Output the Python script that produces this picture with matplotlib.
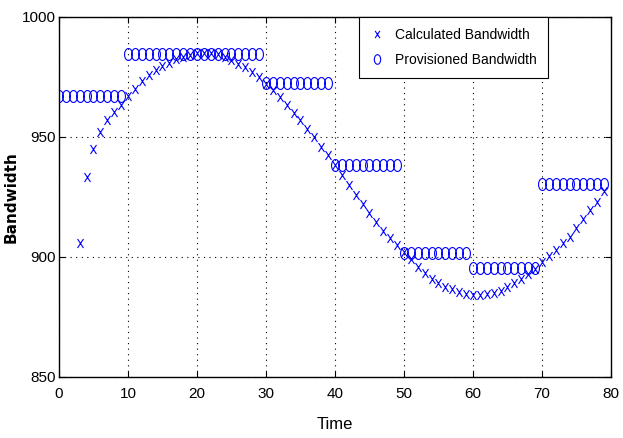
import numpy as np
import matplotlib
matplotlib.use('Agg')
import matplotlib.pyplot as plt
from matplotlib.path import Path
from matplotlib.markers import MarkerStyle

# 計算された帯域 (t=3..79)
calc_time = np.arange(3, 80)
calc_bw = [906, 933.5, 945, 952, 957, 960.5, 963.5,
           967, 970, 973.5, 976, 978, 979.5, 981, 982.5, 983.5, 984,
           985, 985, 985, 984.5, 983.5, 982, 980.5, 979, 977, 975,
           972, 969.5, 966.5, 963.5, 960, 957, 953.5, 950, 946, 942.5,
           938.5, 934, 930, 926, 922, 918.5, 914.5, 911, 908, 905,
           902, 899, 896, 893.5, 891, 889, 887.5, 886.5, 885.5, 884.5,
           884, 884, 884.5, 885, 886, 887.5, 889, 891, 893, 895,
           898, 900.5, 903, 906, 908.5, 912, 916, 919.5, 923, 927.5]

# 割り当てられた帯域 (t=0..79)
prov_time = np.arange(0, 80)
prov_bw = [967, 967, 967, 967, 967, 967, 967, 967, 967, 967,
           984.5, 984.5, 984.5, 984.5, 984.5, 984.5, 984.5, 984.5, 984.5, 984.5,
           984.5, 984.5, 984.5, 984.5, 984.5, 984.5, 984.5, 984.5, 984.5, 984.5,
           972.5, 972.5, 972.5, 972.5, 972.5, 972.5, 972.5, 972.5, 972.5, 972.5,
           938.5, 938.5, 938.5, 938.5, 938.5, 938.5, 938.5, 938.5, 938.5, 938.5,
           901.5, 901.5, 901.5, 901.5, 901.5, 901.5, 901.5, 901.5, 901.5, 901.5,
           895.5, 895.5, 895.5, 895.5, 895.5, 895.5, 895.5, 895.5, 895.5, 895.5,
           930.5, 930.5, 930.5, 930.5, 930.5, 930.5, 930.5, 930.5, 930.5, 930.5]

xticks = [0, 10, 20, 30, 40, 50, 60, 70, 80]
yticks = [850, 900, 950, 1000]

# 縦長の楕円とx印 (元画像は横方向に圧縮されている)
th = np.linspace(0, 2 * np.pi, 60)
ellipse = MarkerStyle(Path(np.column_stack([0.33 * np.cos(th), 0.5 * np.sin(th)])))
xmark = MarkerStyle(Path([(-0.33, -0.5), (0.33, 0.5), (-0.33, 0.5), (0.33, -0.5)],
                         [Path.MOVETO, Path.LINETO, Path.MOVETO, Path.LINETO]))

font = ['Liberation Sans', 'DejaVu Sans']

fig = plt.figure(figsize=(6.23, 4.38), dpi=100)
ax = fig.add_axes([0.0947, 0.1393, 0.886, 0.8219])

ax.plot(calc_time, calc_bw, linestyle='none', marker=xmark, markersize=6.5,
        markerfacecolor='none', markeredgecolor='blue', markeredgewidth=0.8,
        label='Calculated Bandwidth')
ax.plot(prov_time, prov_bw, linestyle='none', marker=ellipse, markersize=8.6,
        markerfacecolor='none', markeredgecolor='blue', markeredgewidth=0.8,
        label='Provisioned Bandwidth')

ax.set_xlim(0, 80)
ax.set_ylim(850, 1000)
ax.set_xticks(xticks)
ax.set_yticks(yticks)
ax.grid(True, color='black', linestyle=(0, (1, 4)), linewidth=0.8)
ax.tick_params(direction='in', top=True, right=True, length=4, width=0.8)
ax.tick_params(axis='x', pad=7)
ax.tick_params(axis='y', pad=2)
for lab in ax.get_xticklabels() + ax.get_yticklabels():
    lab.set_family(font)
    lab.set_fontsize(11)
for s in ax.spines.values():
    s.set_linewidth(1.0)

ax.set_xlabel('Time', family=font, fontsize=12)
ax.xaxis.set_label_coords(0.5, -0.112)
ax.set_ylabel('Bandwidth', family='DejaVu Sans', fontweight='bold', fontsize=11)
ax.yaxis.set_label_coords(-0.074, 0.5)

leg = ax.legend(loc='upper right', bbox_to_anchor=(0.886, 1.0), borderaxespad=0,
                fancybox=False, edgecolor='black', framealpha=1,
                prop={'family': font, 'size': 10}, handletextpad=0.8,
                handlelength=1.0, borderpad=0.8, labelspacing=0.75,
                markerscale=0.8)
leg.get_frame().set_linewidth(0.8)

fig.savefig('out.png', dpi=100)
